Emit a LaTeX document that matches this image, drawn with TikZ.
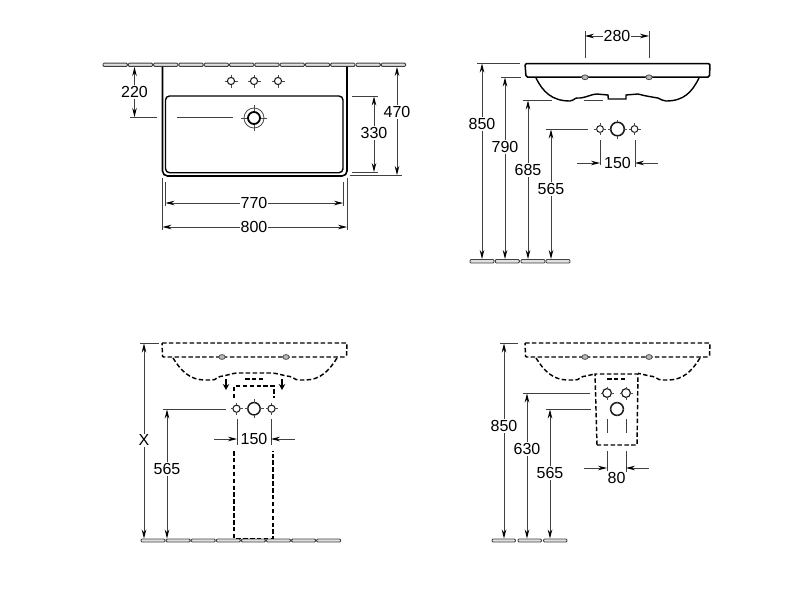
\documentclass[tikz,border=0pt]{standalone}
\usepackage{fontspec}
\setmainfont{Liberation Sans}
\usetikzlibrary{arrows.meta}
\newcommand\sinkhole[4]{% x,y,r,tick
  \draw[ink,line width=#3*0.17pt+0.4pt] (#1,#2) circle[radius=#3];
  \draw[thinl,line width=0.6pt] (#1-#4,#2)--(#1-#3,#2) (#1+#3,#2)--(#1+#4,#2) (#1,#2-#4)--(#1,#2-#3) (#1,#2+#3)--(#1,#2+#4);
}
\newcommand\bowl[2]{% x offset (left of rim), style
  \begin{scope}[shift={(#1,0)}]
    \draw[#2] (0,343) -- (185,343) -- (184.5,356) -- (183,357) -- (1.5,357) -- (0.5,356) -- cycle;
    \draw[#2] (11,358) .. controls (19,371) and (28,380) .. (43,380) -- (50,380)
      .. controls (55,380) and (54,377) .. (58,376.5) .. controls (68,375) and (70,373) .. (76,373)
      -- (109,373) .. controls (115,373) and (118,375) .. (128,376.5)
      .. controls (132,377) and (132,380) .. (137,380) -- (143,380)
      .. controls (158,380) and (167,371) .. (175,358);
    \draw[#2] (83,379) -- (101,379);
    \filldraw[thinl,fill=gray!55,line width=0.8pt] (60,357) ellipse[x radius=3.2,y radius=2.4];
    \filldraw[thinl,fill=gray!55,line width=0.8pt] (124,357) ellipse[x radius=3.2,y radius=2.4];
  \end{scope}
}
\tikzset{
  ink/.style={draw=black!90},
  thinl/.style={draw=black!70},
  dim/.style={draw=black!75,line width=0.95pt},
  dimarrow/.style={dim,{Stealth[length=9pt,width=4.6pt,black]}-{Stealth[length=9pt,width=4.6pt,black]}},
  onearrow/.style={dim,-{Stealth[length=9pt,width=4.6pt,black]}},
  lab/.style={fill=white,inner sep=1pt,text=black,font=\fontsize{16}{16}\selectfont},
  tilebox/.style={draw=black!75,fill=black!12,line width=0.95pt,rounded corners=1pt},
  solidl/.style={draw=black,line width=1.6pt},
  dashl/.style={draw=black,line width=1.45pt,dash pattern=on 4.5pt off 2.4pt}
}
\begin{document}
\begin{tikzpicture}[x=1pt,y=-1pt]
\useasboundingbox (0,0) rectangle (800,600);
% top view wall
\foreach \i in {0,...,11} \draw[tilebox] ({103+25.3*\i},63.2) rectangle ({127.3+25.3*\i},66.4);
% basin plan
\draw[solidl,rounded corners=5pt] (162.5,66.5) -- (162.5,176) -- (347,176) -- (347,66.5);
\draw[draw=black,line width=1.4pt,rounded corners=4pt] (165.5,96) rectangle (343,172.7);
\foreach \x in {231,254,278} {\sinkhole{\x}{81}{3.6}{6.5}}
\draw[thinl,line width=0.8pt] (254,118) circle[radius=10];
\draw[thinl,line width=0.8pt] (241,118)--(267,118) (254,105)--(254,131);
\fill[white] (254,118) circle[radius=6];
\draw[draw=black,line width=1.8pt] (254,118) circle[radius=6];
\draw[dim] (177,117.7)--(233,117.7) (130,117.7)--(157,117.7);
% top-view dims
\coordinate (a1) at (134.5,67); \coordinate (a2) at (134.5,117);
\draw[dimarrow] (a1)--(a2); \node[lab] (l220) at (134.5,92) {220};
\draw[dim] (352,96)--(378,96) (352,172.5)--(378,172.5) (350,175.5)--(402,175.5);
\coordinate (b1) at (374,96.5); \coordinate (b2) at (374,172);
\draw[dimarrow] (b1)--(b2); \node[lab] (l330) at (374,133) {330};
\coordinate (c1) at (397,67); \coordinate (c2) at (397,175);
\draw[dimarrow] (c1)--(c2); \node[lab] (l470) at (397,112) {470};
\draw[dim] (165.5,182)--(165.5,206) (343,182)--(343,206) (162.5,178)--(162.5,230) (347,178)--(347,230);
\coordinate (d1) at (165.5,203); \coordinate (d2) at (343,203);
\draw[dimarrow] (d1)--(d2); \node[lab] (l770) at (254,203) {770};
\coordinate (e1) at (162.5,227); \coordinate (e2) at (347,227);
\draw[dimarrow] (e1)--(e2); \node[lab] (l800) at (254,227) {800};

% side view
\draw[draw=black,line width=1.5pt,rounded corners=1.5pt] (525,63.5) -- (710,63.5) -- (709.5,77) -- (526,77) -- cycle;
\draw[draw=black,line width=1.4pt] (536,78) .. controls (543,92) and (552,101) .. (570,101)
  -- (573,100) .. controls (575,98) and (576,98) .. (580,98) .. controls (588,97) and (592,94) .. (597,94)
  -- (608,95) -- (608.3,99) -- (626,99) -- (626,95) -- (638,94)
  .. controls (645,96) and (652,97) .. (658,98) -- (662,100) -- (666,101)
  .. controls (684,101) and (692,92) .. (699,78);
\filldraw[thinl,fill=gray!55,line width=0.8pt] (585,77.3) ellipse[x radius=3.2,y radius=2.4];
\filldraw[thinl,fill=gray!55,line width=0.8pt] (649,77.3) ellipse[x radius=3.2,y radius=2.4];
\foreach \x in {470,495.3,521,546} \draw[tilebox] (\x,259.5) rectangle ({\x+24},263);
\sinkhole{600}{129}{3.4}{6}
\sinkhole{634.5}{129}{3.4}{6}
\sinkhole{617.5}{129}{6.8}{9.5}
\draw[dim] (585,31)--(585,58) (649,31)--(649,58);
\coordinate (f1) at (604,36); \coordinate (f2) at (585,36); \coordinate (f3) at (630,36); \coordinate (f4) at (649,36);
\draw[onearrow] (f1)--(f2); \draw[onearrow] (f3)--(f4);
\node[lab] (l280) at (617,36) {280};
\draw[dim] (477,63.5)--(520,63.5) (501,77)--(521,77) (523,100)--(552,100) (584,100)--(603,100) (546,129)--(588,129);
\coordinate (g0) at (482,63.5); \coordinate (g1) at (482,259);
\draw[dimarrow] (g0)--(g1); \node[lab] (l850a) at (482,124) {850};
\coordinate (h0) at (505,77.5); \coordinate (h1) at (505,259);
\draw[dimarrow] (h0)--(h1); \node[lab] (l790) at (505,147) {790};
\coordinate (i0) at (528,100.5); \coordinate (i1) at (528,259);
\draw[dimarrow] (i0)--(i1); \node[lab] (l685) at (528,170) {685};
\coordinate (j0) at (551,129.5); \coordinate (j1) at (551,259);
\draw[dimarrow] (j0)--(j1); \node[lab] (l565a) at (551,189) {565};
\draw[dim] (600,140)--(600,165) (635,140)--(635,167);
\coordinate (k1) at (577,163); \coordinate (k2) at (600,163); \coordinate (k3) at (658,163); \coordinate (k4) at (635,163);
\draw[onearrow] (k1)--(k2); \draw[onearrow] (k3)--(k4);
\node[lab] (l150a) at (617.5,163) {150};

% pedestal view
\bowl{162}{dashl}
\foreach \i in {0,...,7} \draw[tilebox] ({141+25.1*\i},539) rectangle ({165+25.1*\i},542);
\draw[dashl] (234,398)--(234,386)--(274,386)--(274,398);
\draw[dashl] (234,451)--(234,538.5)--(273,538.5)--(273,451);
\coordinate (m1) at (226,379); \coordinate (m2) at (226,390); \coordinate (m3) at (282,379); \coordinate (m4) at (282,390);
\draw[draw=black,line width=1.6pt,-{Stealth[length=6pt,width=6.5pt]}] (m1)--(m2);
\draw[draw=black,line width=1.6pt,-{Stealth[length=6pt,width=6.5pt]}] (m3)--(m4);
\sinkhole{236.5}{408.7}{3.6}{6}
\sinkhole{271.5}{408.7}{3.6}{6}
\sinkhole{254}{408.7}{6.2}{9.5}
\draw[dim] (237,419)--(237,445) (271,419)--(271,445);
\coordinate (n1) at (214,439); \coordinate (n2) at (237,439); \coordinate (n3) at (295,439); \coordinate (n4) at (271,439);
\draw[onearrow] (n1)--(n2); \draw[onearrow] (n3)--(n4);
\node[lab] (l150b) at (254,439) {150};
\draw[dim] (140,343)--(159,343) (163,409)--(226,409);
\coordinate (o0) at (144,343.5); \coordinate (o1) at (144,538.5);
\draw[dimarrow] (o0)--(o1); \node[lab] (lx) at (144,440) {X};
\coordinate (p0) at (167,409.5); \coordinate (p1) at (167,538.5);
\draw[dimarrow] (p0)--(p1); \node[lab] (l565b) at (167,469) {565};

% semi-pedestal view
\bowl{525}{dashl}
\foreach \x in {492,518,543.5} \draw[tilebox] (\x,539) rectangle ({\x+23.5},542);
\fill[white] (595,360) rectangle (638,381);
\draw[dashl] (597,445)--(595,374)--(638,374)--(637,445)--cycle;
\draw[dashl] (607,379)--(626,379);
\sinkhole{607}{393}{4.4}{6.5}
\sinkhole{626}{393}{4.4}{6.5}
\sinkhole{617}{409}{6.4}{7}
\draw[dim] (607,419)--(607,433) (626,419)--(626,433) (607,451)--(607,472) (626,451)--(626,472);
\coordinate (q1) at (584,468); \coordinate (q2) at (607,468); \coordinate (q3) at (649,468); \coordinate (q4) at (626,468);
\draw[onearrow] (q1)--(q2); \draw[onearrow] (q3)--(q4);
\node[lab] (l80) at (616.5,478) {80};
\draw[dim] (500,343)--(518,343) (523,393)--(590,393) (546,409)--(591,409);
\coordinate (r0) at (504,343.5); \coordinate (r1) at (504,538.5);
\draw[dimarrow] (r0)--(r1); \node[lab] (l850b) at (504,426) {850};
\coordinate (s0) at (527,393.5); \coordinate (s1) at (527,538.5);
\draw[dimarrow] (s0)--(s1); \node[lab] (l630) at (527,449) {630};
\coordinate (t0) at (550,409.5); \coordinate (t1) at (550,538.5);
\draw[dimarrow] (t0)--(t1); \node[lab] (l565c) at (550,473) {565};
\end{tikzpicture}
\end{document}
